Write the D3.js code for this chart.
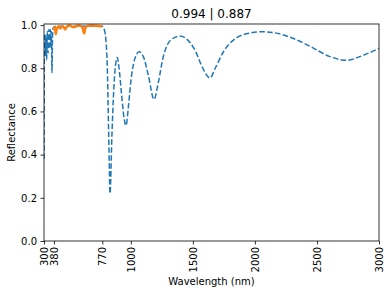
<!DOCTYPE html>
<html>
<head>
<meta charset="utf-8">
<script src="https://cdn.jsdelivr.net/npm/d3@7"></script>
<style>
  body { margin: 0; background: #fff; }
  text { font-family: "DejaVu Sans", sans-serif; fill: #000; }
</style>
</head>
<body>
<svg id="chart"></svg>
<script>
// blue dashed: full spectrum reflectance
var specWl = [300, 302, 306, 311, 316, 321, 327, 333, 339, 345, 351, 356, 360, 364, 369, 375, 382, 400, 450, 500, 600, 700, 770, 790,
              808, 824, 832, 848, 864, 880, 890, 905, 925, 945, 961, 980, 1000, 1030, 1066, 1100, 1140, 1187, 1220, 1260, 1320,
              1396, 1450, 1520, 1580, 1638, 1680, 1750, 1850, 1950, 2050, 2150, 2300, 2450, 2600, 2742, 2850, 3000]
var specR  = [0.38, 0.86, 0.96, 0.86, 0.95, 0.84, 0.97, 0.87, 0.98, 0.89, 0.98, 0.9, 0.97, 0.78, 0.95, 0.99, 0.99, 0.995, 0.995, 0.995, 0.995, 0.995, 0.995, 0.97,
              0.84, 0.42, 0.22, 0.5, 0.72, 0.83, 0.85, 0.8, 0.68, 0.57, 0.535, 0.62, 0.74, 0.84, 0.876, 0.855, 0.77, 0.656, 0.73, 0.85, 0.93,
              0.949, 0.935, 0.88, 0.8, 0.755, 0.8, 0.88, 0.94, 0.962, 0.969, 0.965, 0.94, 0.9, 0.855, 0.837, 0.855, 0.892]
// orange solid: visible band
var visWl = [380, 385, 390, 395, 400, 410, 420, 430, 440, 450, 460, 470, 480, 490, 500, 520, 540, 560, 580, 600, 612, 620, 625, 632, 645, 680, 720, 760, 770]
var visR  = [0.975, 0.99, 0.985, 0.958, 0.975, 0.99, 0.995, 0.985, 0.99, 0.995, 0.99, 0.98, 0.99, 0.995, 0.998, 0.995, 0.99, 0.995, 0.998, 0.995, 0.985, 0.968, 0.962, 0.985, 0.995, 0.998, 0.997, 0.995, 0.995]

var xTicks = [300, 380, 770, 1000, 1500, 2000, 2500, 3000]
var yTicks = [0, 0.2, 0.4, 0.6, 0.8, 1.0]
var title = "0.994 | 0.887"

var width = 391, height = 294,
    mLeft = 44, mRight = 379, mTop = 24, mBottom = 241

var svg = d3.select("#chart").attr("width", width).attr("height", height)

var x = d3.scaleLinear().domain([300, 3000]).range([mLeft, mRight]),
    y = d3.scaleLinear().domain([0, 1.005]).range([mBottom, mTop])

var line = d3.line()
  .x((d) => x(d[0]))
  .y((d) => y(d[1]))
  .curve(d3.curveMonotoneX)

svg.append("defs").append("clipPath").attr("id", "clip")
  .append("rect").attr("x", mLeft).attr("y", mTop - 2)
  .attr("width", mRight - mLeft).attr("height", mBottom - mTop + 2)

var plot = svg.append("g").attr("clip-path", "url(#clip)")

plot.append("path")
  .datum(d3.zip(specWl, specR))
  .attr("d", line)
  .attr("fill", "none")
  .attr("stroke", "#1f77b4")
  .attr("stroke-width", 1.5)
  .attr("stroke-dasharray", "5.5,2.4")

plot.append("path")
  .datum(d3.zip(visWl, visR))
  .attr("d", line)
  .attr("fill", "none")
  .attr("stroke", "#ff7f0e")
  .attr("stroke-width", 2.5)

// frame
svg.append("rect")
  .attr("x", mLeft).attr("y", mTop)
  .attr("width", mRight - mLeft).attr("height", mBottom - mTop)
  .attr("fill", "none").attr("stroke", "#000").attr("stroke-width", 0.8)

var xAxis = svg.append("g")
  .attr("transform", `translate(0,${mBottom})`)
  .call(d3.axisBottom(x).tickValues(xTicks).tickSize(3.5).tickFormat(d3.format("d")))
xAxis.select(".domain").remove()
xAxis.selectAll("line").attr("stroke-width", 0.8)
xAxis.selectAll("text")
  .attr("font-size", 10)
  .attr("transform", "rotate(-90)")
  .attr("text-anchor", "end")
  .attr("x", -6).attr("y", 0).attr("dy", "0.35em")

var yAxis = svg.append("g")
  .attr("transform", `translate(${mLeft},0)`)
  .call(d3.axisLeft(y).tickValues(yTicks).tickSize(3.5).tickPadding(3.5).tickFormat(d3.format(".1f")))
yAxis.select(".domain").remove()
yAxis.selectAll("line").attr("stroke-width", 0.8)
yAxis.selectAll("text").attr("font-size", 10)

svg.append("text")
  .attr("x", (mLeft + mRight) / 2).attr("y", 18)
  .attr("text-anchor", "middle").attr("font-size", 12)
  .text(title)

svg.append("text")
  .attr("x", (mLeft + mRight) / 2).attr("y", 285)
  .attr("text-anchor", "middle").attr("font-size", 10)
  .text("Wavelength (nm)")

svg.append("text")
  .attr("transform", `translate(15,${(mTop + mBottom) / 2}) rotate(-90)`)
  .attr("text-anchor", "middle").attr("font-size", 10)
  .text("Reflectance")
</script>
</body>
</html>
